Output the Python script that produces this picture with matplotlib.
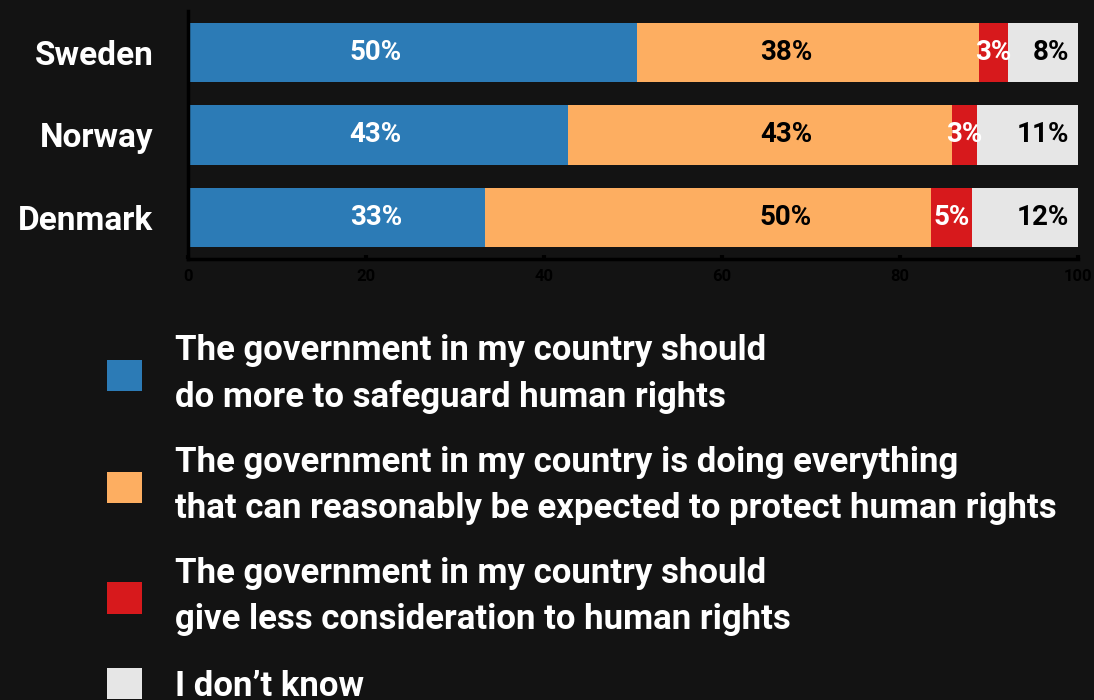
import matplotlib
matplotlib.use("Agg")
import matplotlib.pyplot as plt
import numpy as np

countries = ["Sweden", "Norway", "Denmark"]
more = [50.4, 42.7, 33.4]
doing_all = [38.5, 43.1, 50.1]
less = [3.2, 2.9, 4.6]
dont_know = [7.9, 11.3, 11.9]

answers = [
    "The government in my country should\ndo more to safeguard human rights",
    "The government in my country is doing everything\nthat can reasonably be expected to protect human rights",
    "The government in my country should\ngive less consideration to human rights",
    "I don\u2019t know",
]
colors = ["#2c7bb6", "#fdae61", "#d7191c", "#e6e6e6"]
label_colors = ["white", "black", "white", "black"]
x_ticks = [0, 20, 40, 60, 80, 100]

bg = "#131313"
plt.rcParams["font.family"] = ["Roboto", "DejaVu Sans"]
plt.rcParams["font.weight"] = "bold"

fig = plt.figure(figsize=(10.94, 7.0), dpi=100, facecolor=bg)
ax = fig.add_axes([188 / 1094, 1 - 259 / 700, 890 / 1094, 248 / 700])
ax.set_facecolor(bg)

y = np.arange(len(countries))
series = [more, doing_all, less, dont_know]
left = np.zeros(len(countries))
bars = []
for vals, col in zip(series, colors):
    b = ax.barh(y, vals, left=left, height=0.72, color=col, linewidth=0)
    bars.append(b)
    left = left + np.array(vals)

# value labels: first two columns sit at fixed x, red is centred, grey right-aligned
seg_left = np.zeros(len(countries))
for k, (vals, tc) in enumerate(zip(series, label_colors)):
    for i, v in enumerate(vals):
        if k == 0:
            x, ha = 21.1, "center"
        elif k == 1:
            x, ha = 67.2, "center"
        elif k == 2:
            x, ha = seg_left[i] + v / 2, "center"
        else:
            x, ha = 99.0, "right"
        ax.text(x, y[i], f"{v:.0f}%", color=tc, ha=ha, va="center",
                fontsize=20, fontweight="bold")
    seg_left = seg_left + np.array(vals)

ax.set_xlim(0, 100)
ax.set_ylim(2.5, -0.5)
ax.set_yticks(y)
ax.set_yticklabels(countries, color="white", fontsize=24, fontweight="bold")
ax.set_xticks(x_ticks)
ax.set_xticklabels([str(t) for t in x_ticks], color="black", fontsize=12)
ax.tick_params(axis="y", length=0, pad=25)
ax.tick_params(axis="x", direction="in", length=3, width=3, color="black", pad=7)
for side in ["top", "right"]:
    ax.spines[side].set_visible(False)
for side in ["left", "bottom"]:
    ax.spines[side].set_color("black")
    ax.spines[side].set_linewidth(2.5)

leg = fig.legend([b.patches[0] for b in bars], answers, loc="upper left",
                 bbox_to_anchor=(107 / 1094, 1 - 334 / 700), frameon=False,
                 fontsize=25, labelcolor="white", handlelength=1.0, handleheight=1.0,
                 handletextpad=0.95, labelspacing=0.92, borderpad=0, borderaxespad=0)
for t in leg.get_texts():
    t.set_linespacing(1.5)

plt.savefig("out.png", dpi=100, facecolor=bg)
